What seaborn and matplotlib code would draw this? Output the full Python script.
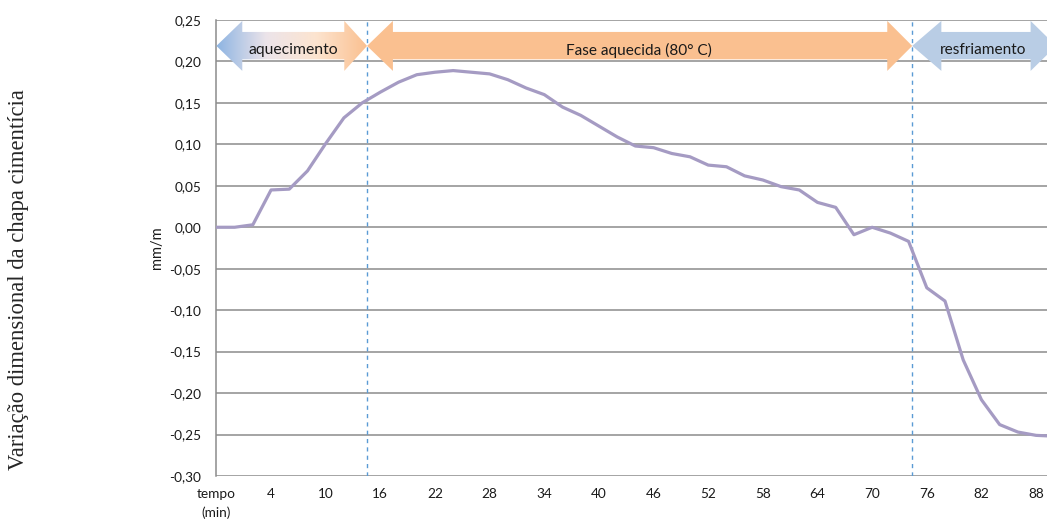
import numpy as np
import pandas as pd
import matplotlib
matplotlib.use("Agg")
import matplotlib.pyplot as plt
import seaborn as sns
from matplotlib.patches import Polygon
from matplotlib.colors import LinearSegmentedColormap

# variação dimensional (mm/m), um ponto a cada 2 min
variacao = [0.000, 0.000, 0.003, 0.045, 0.046, 0.068, 0.101, 0.132, 0.150, 0.163,
            0.175, 0.184, 0.187, 0.189, 0.187, 0.185, 0.178, 0.168, 0.160, 0.145,
            0.135, 0.122, 0.109, 0.098, 0.096, 0.089, 0.085, 0.075, 0.073, 0.062,
            0.057, 0.049, 0.045, 0.030, 0.024, -0.009, 0.000, -0.007, -0.017, -0.073,
            -0.089, -0.160, -0.208, -0.238, -0.247, -0.251, -0.252]
x_labels = ["tempo\n(min)", "4", "10", "16", "22", "28", "34", "40", "46",
            "52", "58", "64", "70", "76", "82", "88"]
y_ticks = [0.25, 0.20, 0.15, 0.10, 0.05, 0.00, -0.05, -0.10, -0.15, -0.20, -0.25, -0.30]
fases = ["aquecimento", "Fase aquecida (80° C)", "resfriamento"]
limites = [0, 8.27, 38.2, 46.1]   # posições (índice) das transições de fase

df = pd.DataFrame({"idx": np.arange(len(variacao)), "var": variacao})

sns.set_style("white")
plt.rcParams["font.family"] = ["Lato", "DejaVu Sans"]

fig = plt.figure(figsize=(10.47, 5.21), dpi=100)
ax = fig.add_axes([0.2067, 0.0864, 0.7933, 0.8752])

for v in y_ticks:
    ax.axhline(v, color="#8c8c8c", lw=1.1, zorder=1)

sns.lineplot(data=df, x="idx", y="var", color="#a59bc3", lw=2.3, ax=ax, zorder=3)

# linhas tracejadas de transição
for xv in limites[1:3]:
    ax.axvline(xv, color="#5b9bd5", lw=1, ls=(0, (3, 3)), zorder=2)

# setas das fases
ys_top, ys_bot = 0.2356, 0.2026
yh_top, yh_bot = 0.2489, 0.1886
ymid = (yh_top + yh_bot) / 2


def seta(x0, x1, h0, h1):
    pts = [(x0, ymid), (x0 + h0, yh_top), (x0 + h0, ys_top), (x1 - h1, ys_top),
           (x1 - h1, yh_top), (x1, ymid), (x1 - h1, yh_bot), (x1 - h1, ys_bot),
           (x0 + h0, ys_bot), (x0 + h0, yh_bot)]
    return pts


p1 = Polygon(seta(limites[0], limites[1], 1.42, 1.25), closed=True,
             facecolor="none", edgecolor="none", zorder=4)
ax.add_patch(p1)
cmap = LinearSegmentedColormap.from_list("aq", ["#8db4e2", "#ece4ea", "#fde4cf", "#fac090"])
grad = np.linspace(0, 1, 256).reshape(1, -1)
im = ax.imshow(grad, cmap=cmap, aspect="auto", extent=[limites[0], limites[1], yh_bot, yh_top],
               zorder=4, interpolation="bicubic")
im.set_clip_path(p1)

p2 = Polygon(seta(limites[1], limites[2], 1.42, 1.37), closed=True,
             facecolor="#fac090", edgecolor="none", zorder=4)
ax.add_patch(p2)
p3 = Polygon(seta(limites[2], limites[3], 1.6, 1.4), closed=True,
             facecolor="#b9cde5", edgecolor="none", zorder=4, clip_on=False)
ax.add_patch(p3)

ax.text(4.2, 0.2135, fases[0], ha="center", va="center", fontsize=11.3, color="#1a1a1a", zorder=5)
ax.text(23.2, 0.2135, fases[1], ha="center", va="center", fontsize=11.1, color="#1a1a1a", zorder=5)
ax.text(42.1, 0.2135, fases[2], ha="center", va="center", fontsize=11.1, color="#1a1a1a", zorder=5)

ax.set_xlim(0, 45.6)
ax.set_ylim(-0.30, 0.25)
ax.set_xticks(np.arange(0, 46, 3))
ax.set_xticklabels(x_labels, fontsize=9.8, color="#1a1a1a", linespacing=1.6)
ax.set_yticks(y_ticks)
ax.set_yticklabels([f"{v:.2f}".replace(".", ",") for v in y_ticks], fontsize=9.8, color="#1a1a1a")
ax.tick_params(axis="both", length=0)
ax.tick_params(axis="x", pad=9)
ax.tick_params(axis="y", pad=11)
for lab in ax.get_xticklabels():
    lab.set_va("top")
ax.set_xlabel("")
ax.set_ylabel("mm/m", fontsize=10.5, color="#1a1a1a", labelpad=4)

for s in ["top", "right", "bottom"]:
    ax.spines[s].set_visible(False)
ax.spines["left"].set_color("#8c8c8c")
ax.spines["left"].set_linewidth(1.1)

fig.text(0.018, 0.463, "Variação dimensional da chapa cimentícia", rotation=90,
         ha="center", va="center", fontsize=16.3, family=["Liberation Serif", "DejaVu Serif"])

fig.savefig("out.png", dpi=100)
